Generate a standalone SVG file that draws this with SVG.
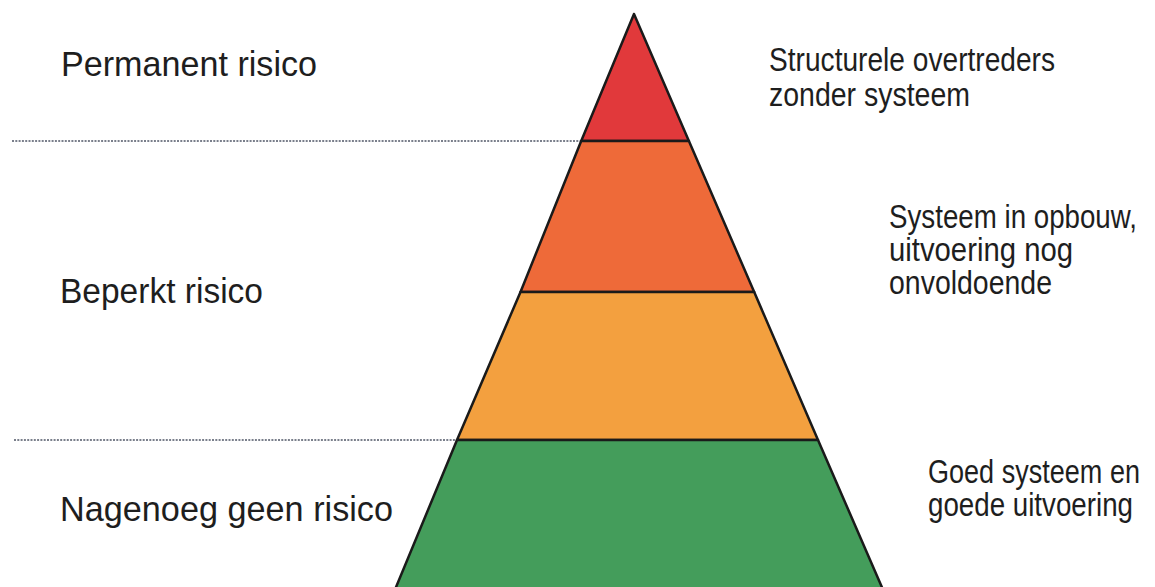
<svg xmlns="http://www.w3.org/2000/svg" width="1155" height="587" viewBox="0 0 1155 587">
<style>
.lbl{font-family:"Liberation Sans",Arial,sans-serif;fill:#1e1e1e}
.big{font-size:35px}
.sm{font-size:32.5px}
.band{stroke:#1a1a1a;stroke-width:2.5;stroke-linejoin:round}
.dot{stroke:#4f5566;stroke-width:1.7;stroke-dasharray:2 1.3;fill:none}
</style>
<rect width="1155" height="587" fill="#ffffff"/>
<g id="connectors">
<line class="dot" x1="12" y1="141" x2="581" y2="141"/>
<line class="dot" x1="14" y1="440" x2="457" y2="440"/>
</g>
<g id="pyramid">
<polygon id="band-red" class="band" fill="#e1393b" points="634,14 581.2,141 688.9,141"/>
<polygon id="band-orange-red" class="band" fill="#ee6a39" points="581.2,141 520.5,292 754.2,292 688.9,141"/>
<polygon id="band-orange" class="band" fill="#f3a03f" points="520.5,292 457,440 818,440 754.2,292"/>
<polygon id="band-green" class="band" fill="#449d5b" points="457,440 394,592 884,592 818,440"/>
</g>
<g id="left-labels">
<text class="lbl big" x="61" y="76" textLength="256" lengthAdjust="spacingAndGlyphs">Permanent risico</text>
<text class="lbl big" x="60" y="303" textLength="203" lengthAdjust="spacingAndGlyphs">Beperkt risico</text>
<text class="lbl big" x="60" y="521" textLength="333" lengthAdjust="spacingAndGlyphs">Nagenoeg geen risico</text>
</g>
<g id="right-labels">
<text class="lbl sm" transform="translate(769,71) scale(0.82,1)" textLength="348.8" lengthAdjust="spacingAndGlyphs">Structurele overtreders</text>
<text class="lbl sm" transform="translate(769,106) scale(0.82,1)" textLength="245.1" lengthAdjust="spacingAndGlyphs">zonder systeem</text>
<text class="lbl sm" transform="translate(889,228) scale(0.82,1)" textLength="302.4" lengthAdjust="spacingAndGlyphs">Systeem in opbouw,</text>
<text class="lbl sm" transform="translate(889,261) scale(0.82,1)" textLength="224.4" lengthAdjust="spacingAndGlyphs">uitvoering nog</text>
<text class="lbl sm" transform="translate(889,294) scale(0.82,1)" textLength="198.8" lengthAdjust="spacingAndGlyphs">onvoldoende</text>
<text class="lbl sm" transform="translate(928,483) scale(0.82,1)" textLength="258.5" lengthAdjust="spacingAndGlyphs">Goed systeem en</text>
<text class="lbl sm" transform="translate(928,516) scale(0.82,1)" textLength="250" lengthAdjust="spacingAndGlyphs">goede uitvoering</text>
</g>
</svg>
